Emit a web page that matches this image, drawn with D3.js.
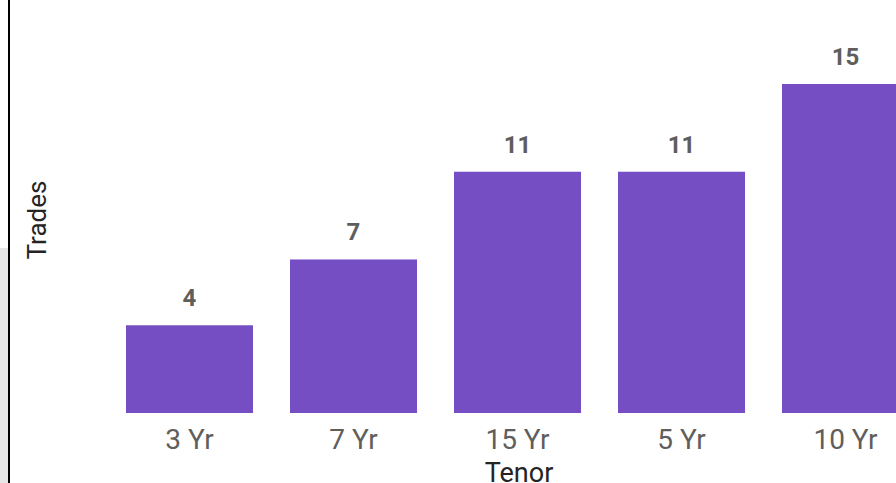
<!DOCTYPE html>
<html>
<head>
<meta charset="utf-8">
<script src="https://cdn.jsdelivr.net/npm/d3@7"></script>
<style>
  html, body { margin: 0; padding: 0; background: #fff; overflow: hidden; }
  text { font-family: Roboto, "DejaVu Sans", sans-serif; }
</style>
</head>
<body>
<div id="chart"></div>
<script>
const tenors = ["3 Yr", "7 Yr", "15 Yr", "5 Yr", "10 Yr"];
const trades = [4, 7, 11, 11, 15];

const width = 896;
const height = 483;

const svg = d3.select("#chart")
    .append("svg")
    .attr("width", width)
    .attr("height", height);

svg.append("rect")
    .attr("width", width)
    .attr("height", height)
    .attr("fill", "white");

// grey strip + border on the left edge
svg.append("rect")
    .attr("x", 0)
    .attr("y", 248)
    .attr("width", 8)
    .attr("height", height - 248)
    .attr("fill", "#e6e6e6");
svg.append("rect")
    .attr("x", 8)
    .attr("y", 0)
    .attr("width", 2)
    .attr("height", height)
    .attr("fill", "#000");

const pad = 37 / 164;
const x = d3.scaleBand()
    .domain(tenors)
    .range([107.5, 927.5])
    .paddingInner(pad)
    .paddingOuter(pad / 2);

const y = d3.scaleLinear()
    .domain([0, d3.max(trades)])
    .range([413, 84]);

const data = tenors.map((t, i) => ({ tenor: t, value: trades[i] }));

svg.selectAll("rect.bar")
    .data(data)
    .enter()
    .append("rect")
    .attr("class", "bar")
    .attr("x", d => x(d.tenor))
    .attr("y", d => y(d.value))
    .attr("width", x.bandwidth())
    .attr("height", d => y(0) - y(d.value))
    .attr("fill", "#744ec2");

// data labels
svg.selectAll("text.val")
    .data(data)
    .enter()
    .append("text")
    .attr("class", "val")
    .attr("x", d => x(d.tenor) + x.bandwidth() / 2)
    .attr("y", d => y(d.value) - 19)
    .attr("text-anchor", "middle")
    .attr("font-size", 24)
    .attr("font-weight", "bold")
    .attr("fill", "#605e5c")
    .text(d => d.value);

// category axis
const xAxis = svg.append("g")
    .attr("transform", "translate(0,413)")
    .call(d3.axisBottom(x).tickSize(0).tickPadding(0));
xAxis.select(".domain").remove();
xAxis.selectAll("text")
    .attr("dy", 0)
    .attr("y", 36)
    .attr("font-size", 28)
    .attr("font-family", "Roboto, sans-serif")
    .attr("fill", "#605e5c");

// axis titles
svg.append("text")
    .attr("x", 519)
    .attr("y", 482)
    .attr("text-anchor", "middle")
    .attr("font-size", 27)
    .attr("fill", "#252423")
    .text("Tenor");

svg.append("text")
    .attr("transform", "translate(46,220) rotate(-90)")
    .attr("text-anchor", "middle")
    .attr("font-size", 26)
    .attr("fill", "#252423")
    .text("Trades");
</script>
</body>
</html>
